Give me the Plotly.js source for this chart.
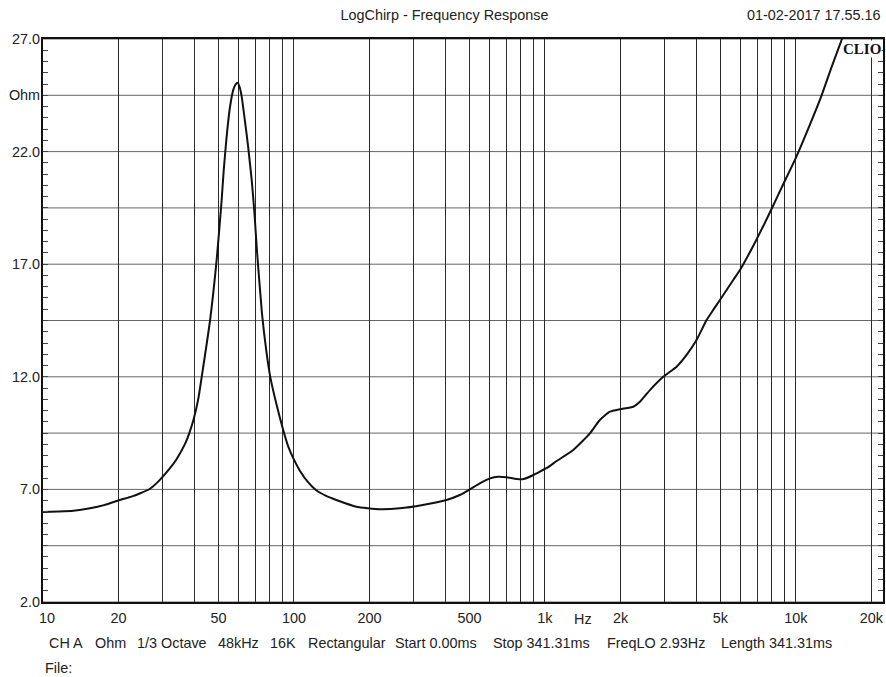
<!DOCTYPE html>
<html>
<head>
<meta charset="utf-8">
<script src="https://cdn.plot.ly/plotly-3.0.1.min.js"></script>
<style>
  html, body { margin: 0; padding: 0; background: #fff; }
  #chart { width: 886px; height: 677px; }
</style>
</head>
<body>
<div id="chart"></div>
<script>
// Impedance sweep (LogChirp), frequency in Hz and modulus in Ohm
const freqHz = [
  10, 11.5, 13.2, 15.4, 17.5, 20.2, 22.5, 24.4, 26.7, 28.5, 30.2, 32, 34, 36.8, 38.5,
  40, 41.6, 42.9, 46.3, 49.3, 51.4, 52.5, 53.9, 55.6, 57.3, 58.5, 59.6,
  60.8, 61.9, 63.7, 65.7, 67.9, 69.6, 71.2, 74.5, 77.5, 80.6, 85.5, 90.6, 94.9,
  100, 105.7, 114, 123, 135, 147.5, 177, 220, 264, 326, 405, 458, 502, 550, 605,
  650, 703, 773, 822, 900, 955, 1037, 1113, 1297, 1511, 1655, 1815, 1990, 2249,
  2390, 2620, 2960, 3347, 3668, 4018, 4405, 4683, 4981, 5627, 5984, 6970, 7998,
  8901, 9973, 11370, 12660, 13870, 15200, 15600
];
const impedanceOhm = [
  6.00, 6.02, 6.05, 6.16, 6.30, 6.53, 6.68, 6.83, 7.03, 7.30, 7.60, 7.93, 8.33, 9.02, 9.58,
  10.19, 11.04, 12.0, 14.5, 17.3, 19.72, 21.18, 22.65, 23.98, 24.74, 24.98, 25.06,
  24.85, 24.44, 23.4, 22.2, 20.7, 19.25, 17.6, 14.85, 13.2, 11.95, 10.7, 9.64, 8.9,
  8.32, 7.82, 7.31, 6.95, 6.7, 6.53, 6.23, 6.12, 6.16, 6.31, 6.53, 6.75, 7.0, 7.27, 7.49,
  7.56, 7.54, 7.46, 7.46, 7.64, 7.79, 8.01, 8.26, 8.75, 9.49, 10.08, 10.45, 10.56, 10.67,
  10.89, 11.41, 12.0, 12.45, 12.97, 13.63, 14.52, 14.97, 15.41, 16.3, 16.74, 18.1, 19.45,
  20.55, 21.7, 23.2, 24.5, 25.75, 26.95, 27.3
];

// Vertical grid at every 1..9 multiple, labelled on the 1-2-5 steps
const xGridHz = [10, 20, 30, 40, 50, 60, 70, 80, 90,
  100, 200, 300, 400, 500, 600, 700, 800, 900,
  1000, 2000, 3000, 4000, 5000, 6000, 7000, 8000, 9000,
  10000, 20000];
const xLabels = ['\u00a0\u00a010', '20', '', '', '50', '', '', '', '',
  '100', '200', '', '', '500', '', '', '', '',
  '1k', '2k', '', '', '5k', '', '', '', '',
  '10k', '20k'];

// Horizontal grid every 2.5 Ohm; the unit sits on the 24.5 line
const yGridOhm = [2, 4.5, 7, 9.5, 12, 14.5, 17, 19.5, 22, 24.5, 27];
const yLabels = ['2.0', '', '7.0', '', '12.0', '', '17.0', '', '22.0', 'Ohm', '27.0'];

const chartTitle = 'LogChirp - Frequency Response';
const stamp = '01-02-2017 17.55.16';
const settingsLine = ['CH A', 'Ohm', '1/3 Octave', '48kHz', '16K', 'Rectangular',
  'Start 0.00ms', 'Stop 341.31ms', 'FreqLO 2.93Hz', 'Length 341.31ms'];
const fileLine = 'File:';
const unitX = 'Hz';
const unitXAt = 1422;

const font = { family: '"Liberation Sans", Arial, sans-serif', size: 14.4, color: '#222' };

// Plot box in pixels (used to place the footer items)
const box = { l: 43, r: 3, t: 39, b: 75 };
const plotW = 886 - box.l - box.r;
const plotH = 677 - box.t - box.b;
const settingsLeftPx = [47, 93, 135, 216, 268, 306, 393, 491, 605, 719];

// Y ticks every 0.5 Ohm (inside, mirrored on the right); labels only on the grid lines
const yTickStep = 0.5;
const yTickVals = [];
const yTickText = [];
for (let v = 2; v <= 27.0001; v += yTickStep) {
  const r = Math.round(v * 10) / 10;
  yTickVals.push(r);
  const k = yGridOhm.indexOf(r);
  yTickText.push(k >= 0 ? yLabels[k] : '');
}

const traces = [
  {
    x: freqHz, y: impedanceOhm, type: 'scatter', mode: 'lines',
    line: { color: '#111', width: 2, shape: 'spline', smoothing: 0.5 },
    hoverinfo: 'x+y', showlegend: false
  }
];

const gridShapes = yGridOhm.map(v => ({
  type: 'line', xref: 'paper', yref: 'y', x0: 0, x1: 1, y0: v, y1: v,
  line: { color: '#666', width: 1 }, layer: 'below'
}));

const footer = settingsLine.map((t, i) => ({
  text: t, xref: 'paper', yref: 'paper',
  x: (settingsLeftPx[i] - box.l) / plotW, y: -41 / plotH,
  xanchor: 'left', yanchor: 'middle', showarrow: false, font: font
}));

const layout = {
  width: 886, height: 677,
  margin: { l: box.l, r: box.r, t: box.t, b: box.b, pad: 0 },
  paper_bgcolor: '#fff', plot_bgcolor: '#fff',
  font: font,
  showlegend: false,
  title: {
    text: chartTitle, font: font,
    x: 0.478, xanchor: 'center', xref: 'paper',
    y: 1 - 15 / 677, yanchor: 'middle', yref: 'container'
  },
  xaxis: {
    type: 'log', range: [1, 4.347],
    tickmode: 'array', tickvals: xGridHz, ticktext: xLabels,
    ticks: 'outside', ticklen: 2, tickcolor: 'rgba(0,0,0,0)',
    showgrid: true, gridcolor: '#2a2a2a', gridwidth: 1,
    showline: true, linecolor: '#111', linewidth: 2, mirror: true,
    zeroline: false, tickfont: font, fixedrange: true
  },
  yaxis: {
    range: [2, 27],
    tickmode: 'array', tickvals: yTickVals, ticktext: yTickText,
    ticks: 'inside', ticklen: 5, tickwidth: 1, tickcolor: '#444',
    ticklabelstandoff: -2,
    showgrid: false,
    showline: true, linecolor: '#111', linewidth: 2, mirror: 'allticks',
    zeroline: false, tickfont: font, fixedrange: true
  },
  shapes: gridShapes,
  annotations: [
    {
      text: stamp, xref: 'paper', yref: 'paper', x: 1, y: 1 + 24 / plotH,
      xanchor: 'right', yanchor: 'middle', showarrow: false, font: font
    },
    {
      text: '<b>CLIO</b>', xref: 'paper', yref: 'paper', x: 0.999, y: 0.998,
      xanchor: 'right', yanchor: 'top', showarrow: false,
      bgcolor: '#fff', borderpad: 0,
      font: { family: '"Liberation Serif", "Times New Roman", serif', size: 15, color: '#111' }
    },
    {
      text: unitX, xref: 'x', yref: 'paper', x: Math.log10(unitXAt), y: -17 / plotH,
      xanchor: 'center', yanchor: 'middle', showarrow: false, font: font
    },
    ...footer,
    {
      text: fileLine, xref: 'paper', yref: 'paper', x: 0, y: -66 / plotH,
      xanchor: 'left', yanchor: 'middle', showarrow: false, font: font
    }
  ]
};

Plotly.newPlot('chart', traces, layout, { staticPlot: true, displayModeBar: false });
</script>
</body>
</html>
